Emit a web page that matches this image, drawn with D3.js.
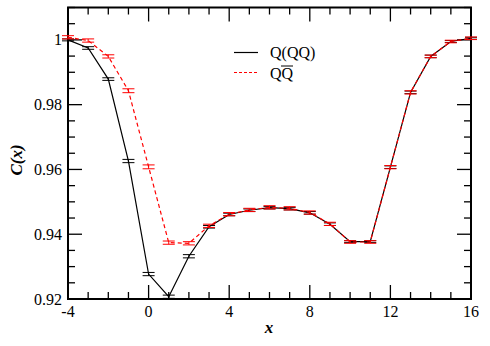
<!DOCTYPE html>
<html>
<head>
<meta charset="utf-8">
<script src="https://cdn.jsdelivr.net/npm/d3@7"></script>
<style>
  body { margin: 0; background: #fff; }
  svg text { font-family: "Times New Roman", "Liberation Serif", "DejaVu Serif", Times, serif; }
</style>
</head>
<body>
<svg width="490" height="346"></svg>
<script>
var xs = [-4, -3, -2, -1, 0, 1, 2, 3, 4, 5, 6, 7, 8, 9, 10, 11, 12, 13, 14, 15, 16];
var qqq = [1.0, 0.9975, 0.9879, 0.9626, 0.9277, 0.9207, 0.9332, 0.9423, 0.9461, 0.9474, 0.9482, 0.9479, 0.9466, 0.9431, 0.9377, 0.9377, 0.9607, 0.9838, 0.9949, 0.9995, 1.0005];
var qqqErr = [0.0003, 0.0004, 0.0004, 0.0005, 0.0005, 0.0005, 0.0005, 0.0004, 0.0004, 0.0004, 0.0004, 0.0004, 0.0004, 0.0004, 0.0003, 0.0003, 0.0004, 0.0004, 0.0004, 0.0003, 0.0003];
var qqbar = [1.0008, 0.9998, 0.9949, 0.9843, 0.9608, 0.9374, 0.9372, 0.9426, 0.9462, 0.9475, 0.9483, 0.9480, 0.9467, 0.9432, 0.9376, 0.9376, 0.9607, 0.9838, 0.9949, 0.9995, 1.0005];
var qqbarErr = [0.0005, 0.0005, 0.0005, 0.0006, 0.0006, 0.0005, 0.0005, 0.0005, 0.0005, 0.0005, 0.0005, 0.0005, 0.0005, 0.0005, 0.0004, 0.0004, 0.0005, 0.0005, 0.0004, 0.0004, 0.0004];
var xTicks = [-4, 0, 4, 8, 12, 16];
var yTicks = [0.92, 0.94, 0.96, 0.98, 1];

var svg = d3.select("svg");
var pL = 68, pR = 471, pT = 7.5, pB = 299;

var x = d3.scaleLinear().domain([-4, 16]).range([pL, pR]);
var y = d3.scaleLinear().domain([0.92, 1.01]).range([pB, pT]);

var g = svg.append("g");

// ticks on all four sides, pointing in
var xMinor = d3.range(-4, 16.01, 1);
var yMinor = d3.range(0, 19).map(function(i) { return 0.92 + i * 0.005; });
function xTickLen(d) { return xTicks.indexOf(d) >= 0 ? 14 : 7; }
function yTickLen(d) { return yTicks.some(function(t) { return Math.abs(t - d) < 1e-6; }) ? 14 : 7; }

g.selectAll(".xb").data(xMinor).enter().append("line")
    .attr("x1", function(d) { return x(d); }).attr("x2", function(d) { return x(d); })
    .attr("y1", pB).attr("y2", function(d) { return pB - xTickLen(d); })
    .attr("stroke", "#000").attr("stroke-width", 1.3);
g.selectAll(".xt").data(xMinor).enter().append("line")
    .attr("x1", function(d) { return x(d); }).attr("x2", function(d) { return x(d); })
    .attr("y1", pT).attr("y2", function(d) { return pT + xTickLen(d); })
    .attr("stroke", "#000").attr("stroke-width", 1.3);
g.selectAll(".yl").data(yMinor).enter().append("line")
    .attr("y1", function(d) { return y(d); }).attr("y2", function(d) { return y(d); })
    .attr("x1", pL).attr("x2", function(d) { return pL + yTickLen(d); })
    .attr("stroke", "#000").attr("stroke-width", 1.3);
g.selectAll(".yr").data(yMinor).enter().append("line")
    .attr("y1", function(d) { return y(d); }).attr("y2", function(d) { return y(d); })
    .attr("x1", pR).attr("x2", function(d) { return pR - yTickLen(d); })
    .attr("stroke", "#000").attr("stroke-width", 1.3);

g.append("rect")
    .attr("x", pL).attr("y", pT)
    .attr("width", pR - pL).attr("height", pB - pT)
    .attr("fill", "none").attr("stroke", "#000").attr("stroke-width", 2);

// tick labels
g.selectAll(".xl").data(xTicks).enter().append("text")
    .attr("x", function(d) { return x(d); }).attr("y", 317)
    .attr("text-anchor", "middle").attr("font-size", 16)
    .text(function(d) { return d; });
g.selectAll(".ylab").data(yTicks).enter().append("text")
    .attr("x", 62).attr("y", function(d) { return y(d) + 5.5; })
    .attr("text-anchor", "end").attr("font-size", 16)
    .text(function(d) { return d === 1 ? "1" : d3.format(".2f")(d); });

// axis titles
g.append("text")
    .attr("transform", "translate(22,160) rotate(-90)")
    .attr("text-anchor", "middle").attr("font-size", 17)
    .attr("font-style", "italic").attr("font-weight", "bold")
    .text("C(x)");
g.append("text")
    .attr("x", 269).attr("y", 333)
    .attr("text-anchor", "middle").attr("font-size", 17)
    .attr("font-style", "italic").attr("font-weight", "bold")
    .text("x");

var line = d3.line()
    .x(function(d) { return x(d[0]); })
    .y(function(d) { return y(d[1]); });

function drawSeries(vals, errs, color, dash) {
  var pts = xs.map(function(v, i) { return [v, vals[i], errs[i]]; });
  g.append("path").datum(pts)
      .attr("d", line).attr("fill", "none")
      .attr("stroke", color).attr("stroke-width", 1.2)
      .attr("stroke-dasharray", dash);
  var eb = g.append("g").selectAll("g").data(pts).enter().append("g");
  eb.append("line")
      .attr("x1", function(d) { return x(d[0]); }).attr("x2", function(d) { return x(d[0]); })
      .attr("y1", function(d) { return y(d[1] - d[2]); }).attr("y2", function(d) { return y(d[1] + d[2]); })
      .attr("stroke", color).attr("stroke-width", 1);
  [-1, 1].forEach(function(s) {
    eb.append("line")
        .attr("x1", function(d) { return x(d[0]) - 6; }).attr("x2", function(d) { return x(d[0]) + 6; })
        .attr("y1", function(d) { return y(d[1] + s * d[2]); }).attr("y2", function(d) { return y(d[1] + s * d[2]); })
        .attr("stroke", color).attr("stroke-width", 1);
  });
}

drawSeries(qqq, qqqErr, "#000", null);
drawSeries(qqbar, qqbarErr, "#ff0000", "4,3");

// legend
var leg = g.append("g");
leg.append("line").attr("x1", 234).attr("x2", 258).attr("y1", 52.5).attr("y2", 52.5)
    .attr("stroke", "#000").attr("stroke-width", 1.2);
leg.append("text").attr("x", 270).attr("y", 58).attr("font-size", 16).text("Q(QQ)");
leg.append("line").attr("x1", 234).attr("x2", 258).attr("y1", 72.5).attr("y2", 72.5)
    .attr("stroke", "#ff0000").attr("stroke-width", 1.2).attr("stroke-dasharray", "3,2");
leg.append("text").attr("x", 270).attr("y", 79).attr("font-size", 16).text("QQ");
leg.append("line").attr("x1", 281).attr("x2", 293).attr("y1", 66).attr("y2", 66)
    .attr("stroke", "#000").attr("stroke-width", 1);
</script>
</body>
</html>
